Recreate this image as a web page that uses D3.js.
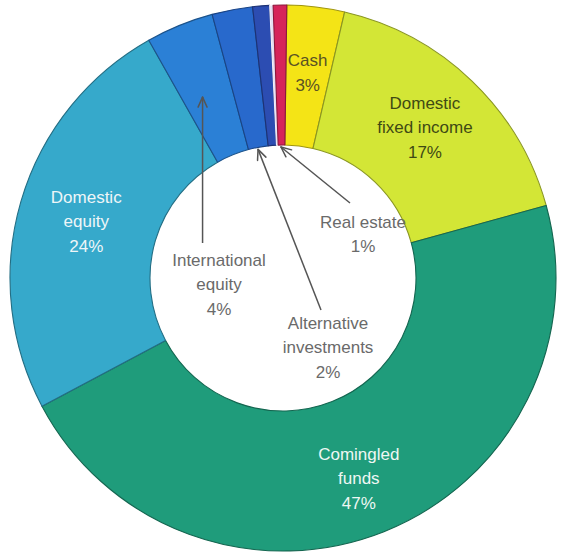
<!DOCTYPE html>
<html>
<head>
<meta charset="utf-8">
<script src="https://cdn.jsdelivr.net/npm/d3@7"></script>
<style>
  html, body { margin: 0; padding: 0; background: #fff; }
  svg { display: block; }
  text { font-family: "Liberation Sans", Arial, sans-serif; }
</style>
</head>
<body>
<svg id="chart" width="562" height="554"></svg>
<script>
// ---- data (clockwise from 12 o'clock) ----
const categories = ["Cash", "Domestic fixed income", "Comingled funds", "Domestic equity",
                    "International equity", "Alternative investments", "Other", "Other (thin)", "Real estate"];
const values = [3.4, 17.1, 46.5, 24.6, 4.0, 2.4, 1.0, 0.2, 0.8];
const labelLines = [["Cash"], ["Domestic", "fixed income"], ["Comingled", "funds"], ["Domestic", "equity"],
                    ["International", "equity"], ["Alternative", "investments"], [], [], ["Real estate"]];
const pctLabels = ["3%", "17%", "47%", "24%", "4%", "2%", "", "", "1%"];
const colors = ["#f4e416", "#d3e636", "#1f9c7b", "#36a9cb", "#2b80d6", "#2869cc", "#2c4db2", "#e4def2", "#d6245a"];
const textColors = ["#5a5224", "#3f4a14", "#eef7f3", "#eef6f8", "#6a6a6a", "#6a6a6a", "", "", "#6a6a6a"];

// ---- layout ----
const W = 562, H = 554;
const cx = 283, cy = 278;
const outerR = 273, innerR = 133;
const startDeg = 0.8;
const fontSize = 17, lineH = 24.5;

const svg = d3.select("#chart");
const g = svg.append("g").attr("transform", `translate(${cx},${cy})`);

const pie = d3.pie().sort(null).value(d => d)
  .startAngle(startDeg * Math.PI / 180)
  .endAngle((startDeg + 360) * Math.PI / 180);
const arcs = pie(values);
const arc = d3.arc().innerRadius(innerR).outerRadius(outerR);

g.selectAll("path.slice").data(arcs).enter().append("path")
  .attr("class", "slice")
  .attr("d", arc)
  .attr("fill", (d, i) => colors[i])
  .attr("stroke", (d, i) => i === 7 ? "#f4f0fa" : d3.color(colors[i]).darker(1.2))
  .attr("stroke-width", 1.1)
  .attr("stroke-linejoin", "round");

// in-ring labels (slices 0..3) at arc centroids
const labelArc = d3.arc().innerRadius(140).outerRadius(270);
const ringLabelShift = [[0, -2], [0, -3], [0, 10], [0, 1]];
[0, 1, 2, 3].forEach(i => {
  const c = labelArc.centroid(arcs[i]);
  const lines = labelLines[i].concat([pctLabels[i]]);
  const x = c[0] + ringLabelShift[i][0];
  const y0 = c[1] + ringLabelShift[i][1] - (lines.length - 1) * lineH / 2;
  const t = g.append("text")
    .attr("text-anchor", "middle")
    .attr("font-size", fontSize)
    .attr("fill", textColors[i]);
  lines.forEach((ln, k) => {
    t.append("tspan").attr("x", x).attr("y", y0 + k * lineH).attr("dy", "0.35em").text(ln);
  });
});

// callout labels inside the hole (offsets from centre)
const callouts = [
  { i: 4, label: [-64, -18], tipFrac: 0.38, tipR: 198, tail: [-81, -35], vertical: true },
  { i: 5, label: [45, 45], tipFrac: 0.47, tipR: 131, tail: [38, 32] },
  { i: 8, label: [80, -56], tipFrac: 0.41, tipR: 131, tail: [67, -75] }
];
callouts.forEach(c => {
  const lines = labelLines[c.i].concat([pctLabels[c.i]]);
  const t = g.append("text")
    .attr("text-anchor", "middle")
    .attr("font-size", fontSize)
    .attr("fill", textColors[c.i]);
  lines.forEach((ln, k) => {
    t.append("tspan").attr("x", c.label[0]).attr("y", c.label[1] + k * lineH).attr("dy", "0.35em").text(ln);
  });
  const a = arcs[c.i];
  const ang = a.startAngle + c.tipFrac * (a.endAngle - a.startAngle);
  const tip = [c.tipR * Math.sin(ang), -c.tipR * Math.cos(ang)];
  const tail = c.vertical ? [tip[0], c.tail[1]] : c.tail;
  g.append("line")
    .attr("x1", tail[0]).attr("y1", tail[1]).attr("x2", tip[0]).attr("y2", tip[1])
    .attr("stroke", "#555").attr("stroke-width", 1.5);
  const dir = Math.atan2(tip[1] - tail[1], tip[0] - tail[0]);
  const hl = 11, spread = 0.42;
  [dir + Math.PI - spread, dir + Math.PI + spread].forEach(b => {
    g.append("line")
      .attr("x1", tip[0]).attr("y1", tip[1])
      .attr("x2", tip[0] + hl * Math.cos(b)).attr("y2", tip[1] + hl * Math.sin(b))
      .attr("stroke", "#555").attr("stroke-width", 1.5).attr("stroke-linecap", "round");
  });
});
</script>
</body>
</html>
